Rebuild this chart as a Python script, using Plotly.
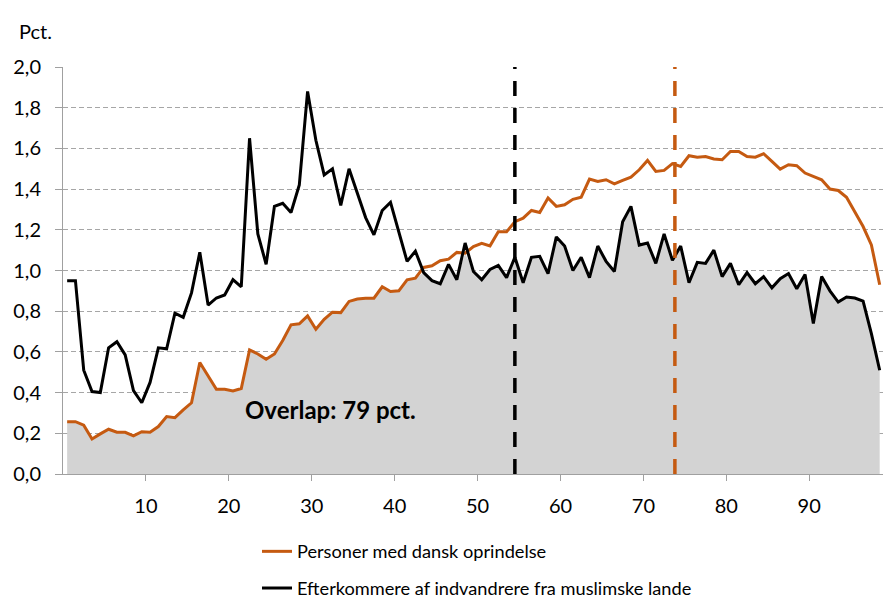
import numpy as np
import plotly.graph_objects as go

# Percentile groups 1..99
percentiles = list(range(1, 100))

danish = [0.257, 0.257, 0.240, 0.172, 0.197, 0.220, 0.205, 0.205, 0.187, 0.208,
          0.205, 0.233, 0.282, 0.277, 0.315, 0.350, 0.548, 0.482, 0.416, 0.416,
          0.408, 0.420, 0.610, 0.590, 0.564, 0.590, 0.656, 0.733, 0.738, 0.777,
          0.711, 0.760, 0.795, 0.793, 0.848, 0.860, 0.864, 0.864, 0.920, 0.897,
          0.900, 0.954, 0.962, 1.015, 1.023, 1.048, 1.056, 1.089, 1.085, 1.118,
          1.134, 1.121, 1.190, 1.190, 1.240, 1.257, 1.295, 1.285, 1.356, 1.315,
          1.323, 1.350, 1.360, 1.449, 1.438, 1.446, 1.426, 1.443, 1.459, 1.495,
          1.541, 1.487, 1.492, 1.525, 1.511, 1.564, 1.557, 1.560, 1.548, 1.544,
          1.585, 1.585, 1.560, 1.557, 1.574, 1.536, 1.498, 1.520, 1.515, 1.479,
          1.462, 1.446, 1.400, 1.393, 1.360, 1.290, 1.216, 1.126, 0.930]

muslim_desc = [0.950, 0.950, 0.510, 0.405, 0.400, 0.620, 0.650, 0.585, 0.410, 0.350,
               0.450, 0.620, 0.615, 0.790, 0.770, 0.890, 1.090, 0.830, 0.865, 0.880,
               0.955, 0.920, 1.650, 1.180, 1.030, 1.315, 1.330, 1.285, 1.420, 1.880,
               1.640, 1.470, 1.500, 1.320, 1.500, 1.380, 1.260, 1.175, 1.295, 1.335,
               1.190, 1.045, 1.095, 0.990, 0.950, 0.935, 1.030, 0.955, 1.135, 0.995,
               0.955, 1.005, 1.025, 0.965, 1.065, 0.940, 1.065, 1.070, 0.985, 1.165,
               1.120, 1.000, 1.065, 0.965, 1.120, 1.045, 0.995, 1.240, 1.315, 1.125,
               1.135, 1.035, 1.180, 1.050, 1.120, 0.940, 1.040, 1.035, 1.100, 0.970,
               1.035, 0.930, 0.990, 0.935, 0.970, 0.915, 0.960, 0.985, 0.910, 0.980,
               0.740, 0.970, 0.900, 0.845, 0.870, 0.865, 0.850, 0.690, 0.510]

# Vertical dashed markers (percentile position)
marker_muslim = 54.5
marker_danish = 73.8

x_ticks = [10, 20, 30, 40, 50, 60, 70, 80, 90]
y_ticks = [0.0, 0.2, 0.4, 0.6, 0.8, 1.0, 1.2, 1.4, 1.6, 1.8, 2.0]

name_danish = "Personer med dansk oprindelse"
name_muslim = "Efterkommere af indvandrere fra muslimske lande"
overlap_text = "Overlap: 79 pct."

ORANGE = "#C55A11"
FONT = "Lato"

x = np.array(percentiles) - 0.5
overlap = np.minimum(np.array(danish), np.array(muslim_desc))

fig = go.Figure()

fig.add_trace(go.Scatter(x=x, y=overlap, mode="lines", fill="tozeroy",
                         fillcolor="#D3D3D3", line=dict(width=0),
                         showlegend=False, hoverinfo="skip"))

fig.add_trace(go.Scatter(x=x, y=danish, mode="lines", name=name_danish,
                         line=dict(color=ORANGE, width=3), legendgroup="a"))
fig.add_trace(go.Scatter(x=x, y=muslim_desc, mode="lines", name=name_muslim,
                         line=dict(color="black", width=3), legendgroup="b"))

fig.add_trace(go.Scatter(x=[marker_muslim, marker_muslim], y=[0, 2.0], mode="lines",
                         line=dict(color="black", width=3.5, dash="15px,12px"),
                         showlegend=False, hoverinfo="skip"))
fig.add_trace(go.Scatter(x=[marker_danish, marker_danish], y=[0, 2.0], mode="lines",
                         line=dict(color=ORANGE, width=3.5, dash="15px,12px"),
                         showlegend=False, hoverinfo="skip"))

fig.add_annotation(x=21.7, y=0.315, xref="x", yref="y", text="<b>" + overlap_text + "</b>",
                   showarrow=False, xanchor="left", yanchor="middle",
                   font=dict(family=FONT, size=24, color="black"))

# "Pct." label above the y axis (px: left 17, centre y 31)
fig.add_annotation(x=(17 - 63) / 820, y=(474 - 31) / 407, xref="paper", yref="paper",
                   text="Pct.", showarrow=False, xanchor="left", yanchor="middle",
                   font=dict(family=FONT, size=20, color="black"))

fig.update_layout(
    width=883, height=599,
    margin=dict(l=63, r=0, t=67, b=125, autoexpand=False),
    paper_bgcolor="white", plot_bgcolor="white",
    separators=",.",
    font=dict(family=FONT, size=20, color="black"),
    legend=dict(x=(257 - 63) / 820, y=-0.145, xanchor="left", yanchor="top",
                font=dict(family=FONT, size=18.2, color="black"),
                tracegroupgap=10, bgcolor="rgba(0,0,0,0)"),
    xaxis=dict(range=[0, 98.9], tickvals=x_ticks, ticks="outside", ticklen=6,
               tickcolor="#A0A0A0", showline=True, linecolor="#A0A0A0", linewidth=1,
               showgrid=False, zeroline=False, ticklabelstandoff=8),
    yaxis=dict(range=[0, 2.0], tickvals=y_ticks, tickformat=".1f", ticks="outside",
               ticklen=7, tickcolor="#A0A0A0", showline=True, linecolor="#A0A0A0",
               linewidth=1, showgrid=True, gridcolor="#A6A6A6", gridwidth=1,
               griddash="5px,3px", zeroline=False, ticklabelstandoff=10),
)

fig.write_html(
    "out.html",
    config={"displayModeBar": False},
    post_script="document.body.style.margin='0px';document.body.style.overflow='hidden';",
)
